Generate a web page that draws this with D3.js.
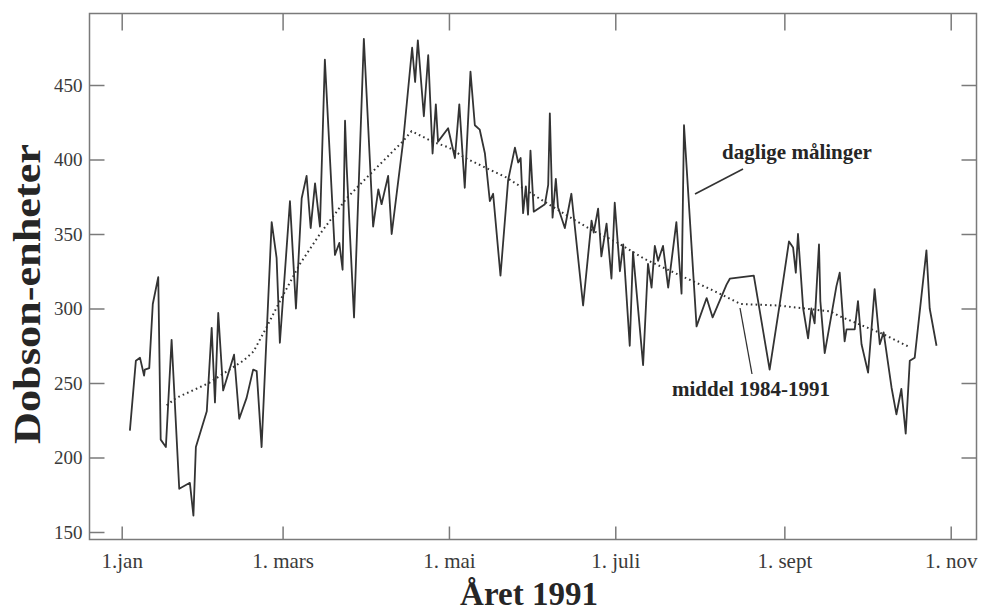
<!DOCTYPE html>
<html><head><meta charset="utf-8">
<script src="https://cdn.jsdelivr.net/npm/d3@7"></script>
<style>
html,body{margin:0;padding:0;background:#fff;}
svg{display:block;}
</style></head>
<body>
<svg id="chart" width="982" height="614"></svg>
<script>
// ---- data ----
const dailyDay = [3.0,5.2,6.7,8.2,8.5,10.1,11.4,13.4,14.3,16.2,18.3,21.1,25.0,26.3,27.2,31.2,33.0,34.2,35.4,37.2,41.2,43.1,45.8,48.2,49.5,51.3,
 55.0,56.8,58.0,61.7,63.9,66.0,67.8,69.3,70.9,72.7,74.5,78.2,79.8,81.0,81.9,82.5,85.2,88.8,92.2,94.1,95.3,97.7,99.0,103.2,
 106.5,107.6,108.6,110.8,112.4,114.0,115.2,116.0,119.7,122.2,123.8,125.8,127.9,129.5,131.3,133.2,135.0,136.2,138.9,141.7,144.2,145.4,146.3,147.2,148.2,149.0,149.9,151.1,155.2,156.4,157.0,158.0,159.2,160.0,162.5,164.9,169.2,172.3,173.1,174.7,175.9,177.8,179.6,180.8,182.7,183.9,186.3,187.5,191.2,193.0,194.3,195.5,196.7,198.5,200.4,203.4,205.3,206.2,210.8,214.5,216.7,221.8,223.0,231.8,237.6,241.3,244.7,246.2,247.2,248.0,249.9,251.7,252.9,254.1,255.7,256.2,257.8,260.3,262.1,263.3,265.1,265.8,268.8,270.0,271.3,273.7,276.1,278.0,279.4,282.3,284.1,285.9,287.5,289.0,290.8,295.1,296.3,298.8];
const dailyValue = [218,265,267,255,259,260,303,321,212,207,279,179,183,161,207,231,287,237,297,245,269,226,240,259,258,207,
 358,334,277,372,300,374,389,354,384,355,467,336,344,326,426,395,294,481,355,380,370,389,350,412,
 475,452,480,429,470,404,437,412,421,401,437,381,459,423,420,404,372,377,322,386,408,398,401,364,382,363,406,365,370,383,431,361,387,368,354,377,302,359,351,367,335,357,320,371,325,343,275,338,262,330,314,342,332,342,314,358,310,423,288,307,294,316,320,322,259,303,345,341,324,350,300,280,300,290,343,305,270,296,315,324,278,286,286,305,276,257,313,276,284,247,229,246,216,265,267,339,300,275];
const meanDay = [16.5,20,32,44.6,48.3,53,58.6,65.4,72.7,82.5,91,103,106.3,114,120,126,134,141,153,165.5,173,181,192,205,217,227,241,260,263,279,289];
const meanValue = [235,240,250,265,271,287,307,330,350,374,390,412,419,412,408,401,394,388,374,360,352,345,333,322,312,303,302,298,295,283,274];
const xTickDays = [0,59,120,181,243,304];
const xTickLabels = ["1.jan","1. mars","1. mai","1. juli","1. sept","1. nov"];
const yTicks = [150,200,250,300,350,400,450];

// ---- layout ----
const svg = d3.select("#chart");
const L = 89.5, R = 976.5, T = 13.5, B = 539.5;
const x = d3.scaleLinear().domain([0,304]).range([121.7,950.7]);
const y = d3.scaleLinear().domain([150,450]).range([532,85]);
const serif = "'Liberation Serif','Times New Roman',serif";
const frameCol = "#7a7a7a";

svg.append("rect").attr("x",L).attr("y",T).attr("width",R-L).attr("height",B-T)
  .attr("fill","none").attr("stroke",frameCol).attr("stroke-width",1.5);

function styleAxis(size){
  return g => {
    g.select(".domain").remove();
    g.selectAll(".tick line").attr("stroke",frameCol).attr("stroke-width",1.5);
    g.selectAll(".tick text").attr("fill","#3a3a3a").style("font-family",serif).style("font-size",size+"px");
  };
}
svg.append("g").attr("transform",`translate(${L},0)`)
  .call(d3.axisLeft(y).tickValues(yTicks).tickSize(-15).tickPadding(7).tickFormat(d3.format("d")))
  .call(styleAxis(19));
svg.append("g").attr("transform",`translate(${R},0)`)
  .call(d3.axisRight(y).tickValues(yTicks.filter(v=>v>150)).tickSize(-15).tickFormat(""))
  .call(styleAxis(19));
svg.append("g").attr("transform",`translate(0,${B})`)
  .call(d3.axisBottom(x).tickValues(xTickDays).tickSize(-13).tickPadding(14).tickFormat((d,i)=>xTickLabels[i]))
  .call(styleAxis(21));
svg.append("g").attr("transform",`translate(0,${T})`)
  .call(d3.axisTop(x).tickValues(xTickDays).tickSize(-17).tickFormat(""))
  .call(styleAxis(19));

// mean dotted line
const meanPts = meanDay.map((d,i)=>[d,meanValue[i]]);
svg.append("path").datum(meanPts)
  .attr("d", d3.line().x(d=>x(d[0])).y(d=>y(d[1])))
  .attr("fill","none").attr("stroke","#333").attr("stroke-width",2)
  .attr("stroke-dasharray","1.6,3.2");

// daily line
const dailyPts = dailyDay.map((d,i)=>[d,dailyValue[i]]);
svg.append("path").datum(dailyPts)
  .attr("d", d3.line().x(d=>x(d[0])).y(d=>y(d[1])))
  .attr("fill","none").attr("stroke","#333").attr("stroke-width",1.8)
  .attr("stroke-linejoin","round");

// annotations
svg.append("text").attr("x",722).attr("y",159).text("daglige målinger")
  .style("font-family",serif).style("font-weight","bold").style("font-size","21px").attr("fill","#262626");
svg.append("line").attr("x1",743).attr("y1",169).attr("x2",695).attr("y2",194)
  .attr("stroke","#333").attr("stroke-width",1.6);
svg.append("text").attr("x",672).attr("y",396).text("middel 1984-1991")
  .style("font-family",serif).style("font-weight","bold").style("font-size","21px").attr("fill","#262626");
svg.append("line").attr("x1",740).attr("y1",308).attr("x2",752).attr("y2",374)
  .attr("stroke","#333").attr("stroke-width",1.3);

// axis titles
svg.append("text").attr("transform","translate(40,294) rotate(-90)")
  .attr("text-anchor","middle").attr("textLength",300).attr("lengthAdjust","spacingAndGlyphs")
  .text("Dobson-enheter")
  .style("font-family",serif).style("font-weight","bold").style("font-size","37px").attr("fill","#262626");
svg.append("text").attr("x",529).attr("y",605).attr("text-anchor","middle").text("Året 1991")
  .style("font-family",serif).style("font-weight","bold").style("font-size","33px").attr("fill","#262626");
</script>
</body></html>
